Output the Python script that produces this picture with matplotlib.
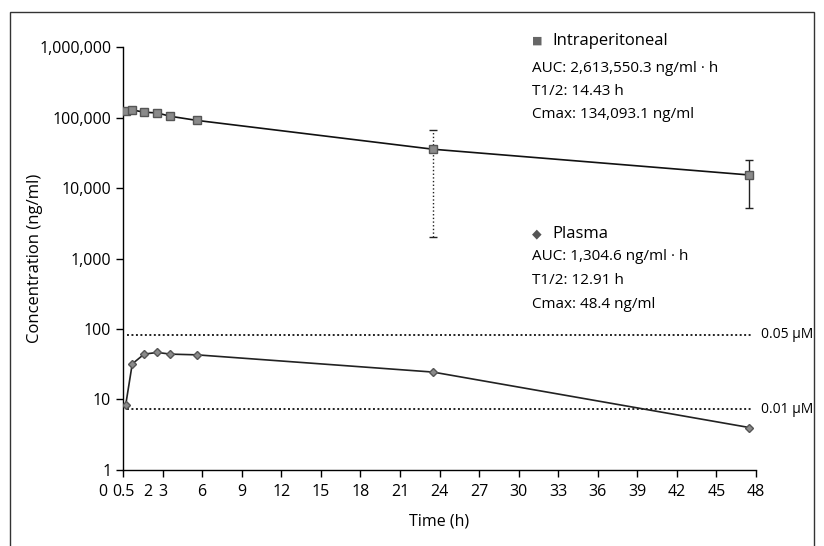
import matplotlib.pyplot as plt
import matplotlib.transforms as mtransforms
from matplotlib.patches import Rectangle
from matplotlib.ticker import FuncFormatter

# sampling times as they sit on the plotted axis (h)
times = [0.2, 0.7, 1.6, 2.6, 3.6, 5.6, 23.5, 47.5]

# intraperitoneal concentration (ng/ml)
ip_conc = [124000, 128000, 119000, 116000, 104000, 91000, 35500, 15300]
ip_err_low = [0, 0, 0, 0, 0, 0, 33500, 10100]
ip_err_high = [0, 0, 0, 0, 0, 0, 30500, 9700]

# plasma concentration (ng/ml)
plasma_conc = [8.3, 32, 44, 46.5, 44, 43, 24.5, 4.0]

# reference levels
ref_levels = [83, 7.3]
ref_labels = ['0.05 \u00b5M', '0.01 \u00b5M']

x_ticks = [0, 3, 6, 9, 12, 15, 18, 21, 24, 27, 30, 33, 36, 39, 42, 45, 48]
x_ticklabels = ['0.5'] + [str(t) for t in x_ticks[1:]]
y_ticks = [1, 10, 100, 1000, 10000, 100000, 1000000]

plt.rcParams['font.family'] = ['Open Sans', 'DejaVu Sans']
plt.rcParams['font.size'] = 11.5

fig = plt.figure(figsize=(8.24, 5.46), dpi=100)
ax = fig.add_axes([0.1493, 0.1392, 0.7682, 0.7747])

# border round the whole figure
fig.patches.append(Rectangle((10 / 824, -6 / 546), 804 / 824, 540 / 546,
                             transform=fig.transFigure, fill=False,
                             edgecolor='#333333', linewidth=1.0))

# reference lines
for lvl, lab in zip(ref_levels, ref_labels):
    ax.plot([0.3, 47.8], [lvl, lvl], color='#222222', linestyle=(0, (1, 1.3)),
            linewidth=1.4, zorder=2)
    ax.text(48.4, lvl, lab, va='center', ha='left', fontsize=10, clip_on=False)

# intraperitoneal
ax.plot(times, ip_conc, color='#111111', linewidth=1.2, zorder=3)
ax.plot(times, ip_conc, linestyle='none', marker='s', markersize=6.2,
        markerfacecolor='#8a8a8a', markeredgecolor='#555555', zorder=4)
# error bars: 24 h dotted, 48 h solid
for i, ls in [(6, ':'), (7, '-')]:
    eb = ax.errorbar([times[i]], [ip_conc[i]],
                     yerr=[[ip_err_low[i]], [ip_err_high[i]]],
                     fmt='none', ecolor='#222222', elinewidth=1.0,
                     capsize=3, capthick=1.0, zorder=3)
    eb[2][0].set_linestyle(ls)

# plasma
ax.plot(times, plasma_conc, color='#222222', linewidth=1.2, zorder=3)
ax.plot(times, plasma_conc, linestyle='none', marker='D', markersize=4.5,
        markerfacecolor='#8a8a8a', markeredgecolor='#555555', zorder=4)

ax.set_yscale('log')
ax.set_ylim(1, 1000000)
ax.set_xlim(0, 48)
ax.set_yticks(y_ticks)
ax.yaxis.set_major_formatter(FuncFormatter(lambda v, p: f'{int(round(v)):,}'))
ax.yaxis.set_minor_locator(plt.NullLocator())
ax.set_xticks(x_ticks)
ax.set_xticklabels(x_ticklabels)
ax.tick_params(axis='both', direction='out', length=5, width=1.0, labelsize=11.5)
ax.tick_params(axis='x', pad=5)

# extra x labels that sit off the tick marks, aligned with the tick labels
trans = ax.get_xaxis_transform() + mtransforms.ScaledTranslation(0, -10 / 72, fig.dpi_scale_trans)
for xv, lab in [(-1.5, '0'), (1.85, '2')]:
    ax.text(xv, 0, lab, transform=trans, ha='center', va='top',
            fontsize=11.5, clip_on=False)

for side in ['top', 'right']:
    ax.spines[side].set_visible(False)
for side in ['left', 'bottom']:
    ax.spines[side].set_linewidth(1.0)

ax.set_xlabel('Time (h)', fontsize=11.5, labelpad=10)
ax.set_ylabel('Concentration (ng/ml)', fontsize=12)
ax.yaxis.set_label_coords(-0.127, 0.5)

# annotation blocks
fig.text(537 / 824, 1 - 41 / 546, '\u25a0', fontsize=8, color='#666666',
         ha='center', va='center')
fig.text(552 / 824, 1 - 41 / 546, 'Intraperitoneal', fontsize=12, va='center')
ip_lines = ['AUC: 2,613,550.3 ng/ml \u00b7 h', 'T1/2: 14.43 h', 'Cmax: 134,093.1 ng/ml']
for k, line in enumerate(ip_lines):
    fig.text(532 / 824, 1 - (68 + 23.5 * k) / 546, line, fontsize=11, va='center')

fig.text(537 / 824, 1 - 234 / 546, '\u25c6', fontsize=9, color='#555555',
         ha='center', va='center')
fig.text(552 / 824, 1 - 234 / 546, 'Plasma', fontsize=12, va='center')
pl_lines = ['AUC: 1,304.6 ng/ml \u00b7 h', 'T1/2: 12.91 h', 'Cmax: 48.4 ng/ml']
for k, line in enumerate(pl_lines):
    fig.text(532 / 824, 1 - (257 + 23.5 * k) / 546, line, fontsize=11, va='center')

fig.savefig('out.png', dpi=100)
